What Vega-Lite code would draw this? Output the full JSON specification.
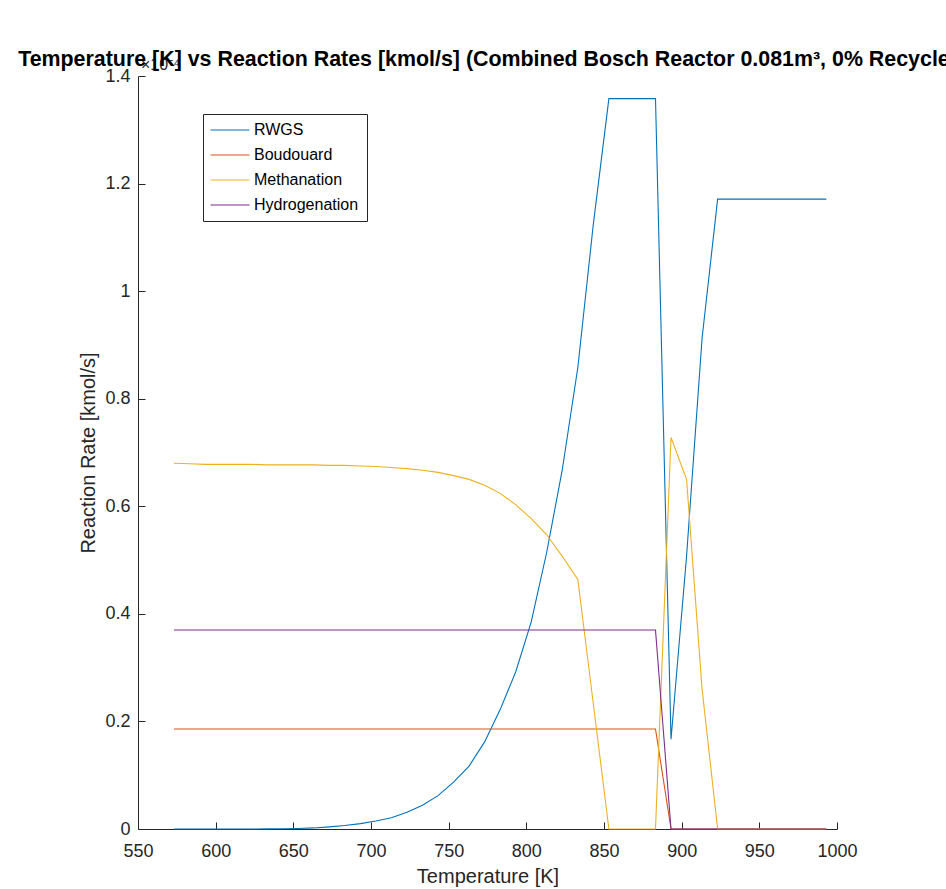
{
  "$schema": "https://vega.github.io/schema/vega-lite/v6.json",
  "width": 699,
  "height": 753,
  "autosize": {"type": "none"},
  "padding": {"left": 138, "top": 76, "right": 109, "bottom": 60},
  "background": "white",
  "title": {
    "text": "Temperature [K] vs Reaction Rates [kmol/s] (Combined Bosch Reactor 0.081m³, 0% Recycle)",
    "font": "Liberation Sans",
    "fontSize": 21.4,
    "fontWeight": "bold",
    "color": "#000000",
    "anchor": "middle",
    "baseline": "alphabetic",
    "offset": 2,
    "dy": 32
  },
  "config": {
    "view": {"stroke": null},
    "axis": {
      "domainColor": "#262626",
      "tickColor": "#262626",
      "labelColor": "#262626",
      "titleColor": "#262626",
      "labelFont": "Liberation Sans",
      "titleFont": "Liberation Sans",
      "labelFontSize": 18,
      "titleFontSize": 20,
      "titleFontWeight": "normal",
      "grid": false,
      "tickSize": -7,
      "domainWidth": 1,
      "tickWidth": 1
    },
    "legend": {
      "orient": "none",
      "legendX": 65,
      "legendY": 38,
      "title": null,
      "labelFont": "Liberation Sans",
      "labelFontSize": 16,
      "labelColor": "#000000",
      "symbolType": "M-3,0H3",
      "symbolSize": 169,
      "symbolStrokeWidth": 1.2,
      "symbolOffset": 11,
      "labelOffset": 16,
      "rowPadding": 9,
      "padding": 8,
      "strokeColor": "#262626",
      "fillColor": "white"
    }
  },
  "layer": [
    {
      "data": {
        "values": [
          {"T": 573.15, "RWGS": 0, "Boudouard": 0.186, "Methanation": 0.680, "Hydrogenation": 0.370},
          {"T": 583.15, "RWGS": 0, "Boudouard": 0.186, "Methanation": 0.679, "Hydrogenation": 0.370},
          {"T": 593.15, "RWGS": 0, "Boudouard": 0.186, "Methanation": 0.678, "Hydrogenation": 0.370},
          {"T": 603.15, "RWGS": 0, "Boudouard": 0.186, "Methanation": 0.678, "Hydrogenation": 0.370},
          {"T": 613.15, "RWGS": 0, "Boudouard": 0.186, "Methanation": 0.678, "Hydrogenation": 0.370},
          {"T": 623.15, "RWGS": 0.0001, "Boudouard": 0.186, "Methanation": 0.678, "Hydrogenation": 0.370},
          {"T": 633.15, "RWGS": 0.0002, "Boudouard": 0.186, "Methanation": 0.677, "Hydrogenation": 0.370},
          {"T": 643.15, "RWGS": 0.0005, "Boudouard": 0.186, "Methanation": 0.677, "Hydrogenation": 0.370},
          {"T": 653.15, "RWGS": 0.001, "Boudouard": 0.186, "Methanation": 0.677, "Hydrogenation": 0.370},
          {"T": 663.15, "RWGS": 0.002, "Boudouard": 0.186, "Methanation": 0.677, "Hydrogenation": 0.370},
          {"T": 673.15, "RWGS": 0.004, "Boudouard": 0.186, "Methanation": 0.676, "Hydrogenation": 0.370},
          {"T": 683.15, "RWGS": 0.0065, "Boudouard": 0.186, "Methanation": 0.676, "Hydrogenation": 0.370},
          {"T": 693.15, "RWGS": 0.010, "Boudouard": 0.186, "Methanation": 0.675, "Hydrogenation": 0.370},
          {"T": 703.15, "RWGS": 0.015, "Boudouard": 0.186, "Methanation": 0.674, "Hydrogenation": 0.370},
          {"T": 713.15, "RWGS": 0.021, "Boudouard": 0.186, "Methanation": 0.672, "Hydrogenation": 0.370},
          {"T": 723.15, "RWGS": 0.031, "Boudouard": 0.186, "Methanation": 0.670, "Hydrogenation": 0.370},
          {"T": 733.15, "RWGS": 0.044, "Boudouard": 0.186, "Methanation": 0.667, "Hydrogenation": 0.370},
          {"T": 743.15, "RWGS": 0.062, "Boudouard": 0.186, "Methanation": 0.663, "Hydrogenation": 0.370},
          {"T": 753.15, "RWGS": 0.087, "Boudouard": 0.186, "Methanation": 0.657, "Hydrogenation": 0.370},
          {"T": 763.15, "RWGS": 0.117, "Boudouard": 0.186, "Methanation": 0.650, "Hydrogenation": 0.370},
          {"T": 773.15, "RWGS": 0.162, "Boudouard": 0.186, "Methanation": 0.639, "Hydrogenation": 0.370},
          {"T": 783.15, "RWGS": 0.222, "Boudouard": 0.186, "Methanation": 0.624, "Hydrogenation": 0.370},
          {"T": 793.15, "RWGS": 0.292, "Boudouard": 0.186, "Methanation": 0.603, "Hydrogenation": 0.370},
          {"T": 803.15, "RWGS": 0.385, "Boudouard": 0.186, "Methanation": 0.577, "Hydrogenation": 0.370},
          {"T": 813.15, "RWGS": 0.515, "Boudouard": 0.186, "Methanation": 0.547, "Hydrogenation": 0.370},
          {"T": 823.15, "RWGS": 0.668, "Boudouard": 0.186, "Methanation": 0.507, "Hydrogenation": 0.370},
          {"T": 833.15, "RWGS": 0.858, "Boudouard": 0.186, "Methanation": 0.464, "Hydrogenation": 0.370},
          {"T": 843.15, "RWGS": 1.125, "Boudouard": 0.186, "Methanation": 0.232, "Hydrogenation": 0.370},
          {"T": 853.15, "RWGS": 1.358, "Boudouard": 0.186, "Methanation": 0, "Hydrogenation": 0.370},
          {"T": 863.15, "RWGS": 1.358, "Boudouard": 0.186, "Methanation": 0, "Hydrogenation": 0.370},
          {"T": 873.15, "RWGS": 1.358, "Boudouard": 0.186, "Methanation": 0, "Hydrogenation": 0.370},
          {"T": 883.15, "RWGS": 1.358, "Boudouard": 0.186, "Methanation": 0, "Hydrogenation": 0.370},
          {"T": 893.15, "RWGS": 0.167, "Boudouard": 0, "Methanation": 0.728, "Hydrogenation": 0},
          {"T": 903.15, "RWGS": 0.507, "Boudouard": 0, "Methanation": 0.650, "Hydrogenation": 0},
          {"T": 913.15, "RWGS": 0.913, "Boudouard": 0, "Methanation": 0.26, "Hydrogenation": 0},
          {"T": 923.15, "RWGS": 1.171, "Boudouard": 0, "Methanation": 0, "Hydrogenation": 0},
          {"T": 933.15, "RWGS": 1.171, "Boudouard": 0, "Methanation": 0, "Hydrogenation": 0},
          {"T": 943.15, "RWGS": 1.171, "Boudouard": 0, "Methanation": 0, "Hydrogenation": 0},
          {"T": 953.15, "RWGS": 1.171, "Boudouard": 0, "Methanation": 0, "Hydrogenation": 0},
          {"T": 963.15, "RWGS": 1.171, "Boudouard": 0, "Methanation": 0, "Hydrogenation": 0},
          {"T": 973.15, "RWGS": 1.171, "Boudouard": 0, "Methanation": 0, "Hydrogenation": 0},
          {"T": 983.15, "RWGS": 1.171, "Boudouard": 0, "Methanation": 0, "Hydrogenation": 0},
          {"T": 993.15, "RWGS": 1.171, "Boudouard": 0, "Methanation": 0, "Hydrogenation": 0}
        ]
      },
      "transform": [
        {"fold": ["RWGS", "Boudouard", "Methanation", "Hydrogenation"], "as": ["series", "rate"]}
      ],
      "mark": {"type": "line", "strokeWidth": 1.1, "interpolate": "linear"},
      "encoding": {
        "x": {
          "field": "T",
          "type": "quantitative",
          "scale": {"domain": [550, 1000], "nice": false, "zero": false},
          "axis": {
            "title": "Temperature [K]",
            "values": [550, 600, 650, 700, 750, 800, 850, 900, 950, 1000],
            "format": "d",
            "labelPadding": 20,
            "titlePadding": 6,
            "labelFlush": false
          }
        },
        "y": {
          "field": "rate",
          "type": "quantitative",
          "scale": {"domain": [0, 1.4], "nice": false},
          "axis": {
            "title": "Reaction Rate [kmol/s]",
            "values": [0, 0.2, 0.4, 0.6, 0.8, 1, 1.2, 1.4],
            "format": "~g",
            "labelPadding": 15,
            "titlePadding": 6,
            "labelFlush": false
          }
        },
        "color": {
          "field": "series",
          "type": "nominal",
          "scale": {
            "domain": ["RWGS", "Boudouard", "Methanation", "Hydrogenation"],
            "range": ["#0072BD", "#D95319", "#EDB120", "#7E2F8E"]
          },
          "legend": {"title": null}
        }
      }
    },
    {
      "data": {"values": [{"T": 550, "rate": 1.4, "note": "×10⁻⁴"}]},
      "mark": {
        "type": "text",
        "align": "left",
        "baseline": "alphabetic",
        "dx": 3,
        "dy": -6,
        "font": "Liberation Sans",
        "fontSize": 16,
        "color": "#262626"
      },
      "encoding": {
        "x": {"field": "T", "type": "quantitative"},
        "y": {"field": "rate", "type": "quantitative"},
        "text": {"field": "note"}
      }
    }
  ]
}
